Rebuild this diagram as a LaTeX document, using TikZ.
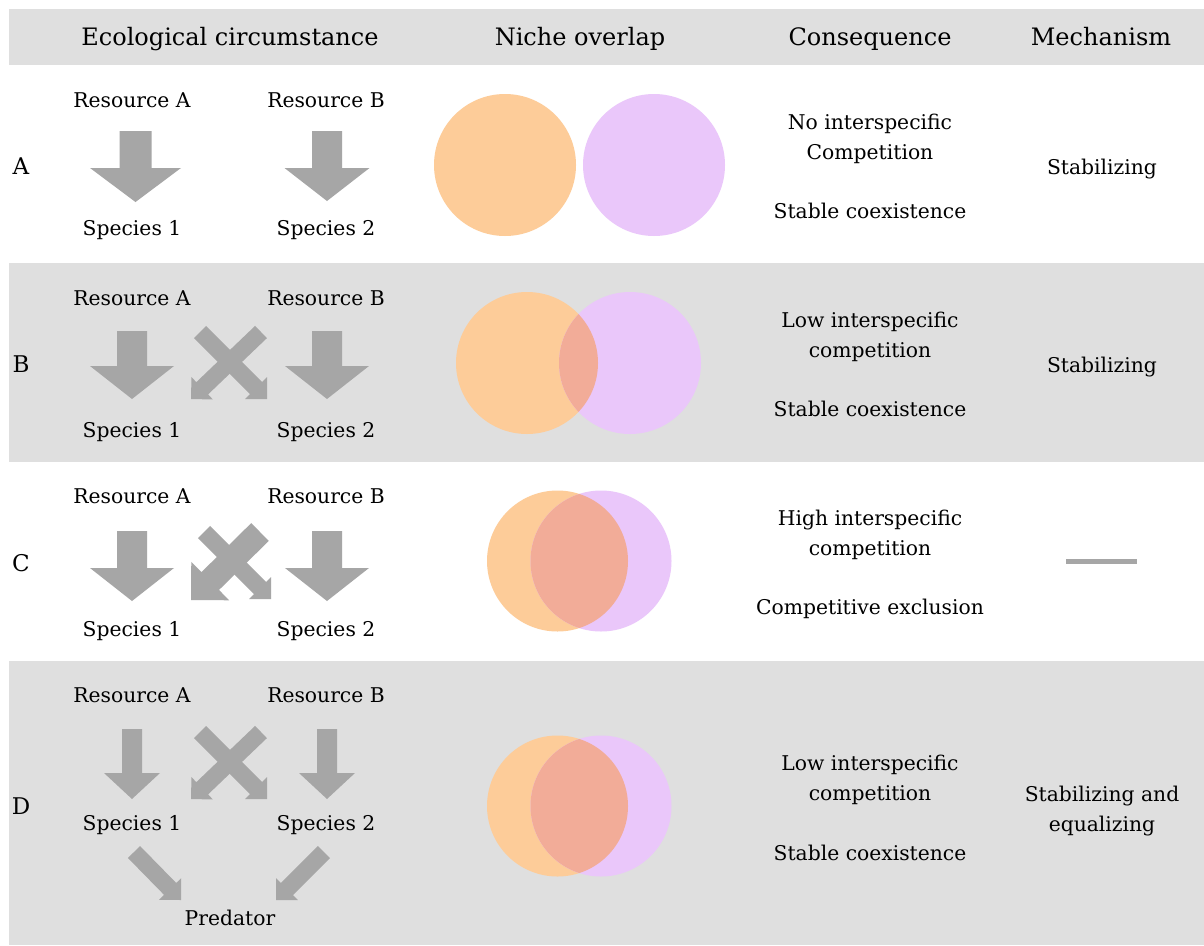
\documentclass[tikz,border=0pt]{standalone}
\usepackage{fontspec}
\setmainfont{DejaVu Serif}
\usetikzlibrary{calc}
\definecolor{bandgray}{HTML}{DFDFDF}
\definecolor{arrowgray}{HTML}{A6A6A6}
\definecolor{nicheorange}{HTML}{FDCC99}
\definecolor{nichepurple}{HTML}{EAC7FA}
\definecolor{nicheoverlap}{HTML}{F2AC98}
% #1 start, #2 tip, #3 shaft half width, #4 head half width, #5 head length
\newcommand{\blockarrow}[5]{%
  \path ($(#2)!#5!(#1)$) coordinate (bab);
  \fill[arrowgray] ($(#1)!#3!90:(#2)$) -- ($(bab)!#3!90:(#2)$) -- ($(bab)!#4!90:(#2)$) -- (#2)
    -- ($(bab)!#4!-90:(#2)$) -- ($(bab)!#3!-90:(#2)$) -- ($(#1)!#3!-90:(#2)$) -- cycle;}
\newcommand{\thinarrow}[2]{\blockarrow{#1}{#2}{8.5pt}{15.5pt}{15.5pt}}
\newcommand{\downarrowbig}[2]{\blockarrow{#1}{#2}{15pt}{42pt}{33pt}}
\begin{document}
\begin{tikzpicture}[x=1pt,y=-1pt,
  hdr/.style={font=\fontsize{24}{30}\selectfont, inner sep=0pt, text height=17pt, text depth=0pt},
  txt/.style={font=\fontsize{20.3}{30}\selectfont, inner sep=0pt, text height=14.5pt, text depth=0pt},
  lbl/.style={font=\fontsize{23}{30}\selectfont, inner sep=0pt, text height=16.5pt, text depth=0pt},
  band/.style={fill=bandgray}]
\useasboundingbox (0,0) rectangle (1204,945);
\fill[white] (0,0) rectangle (1204,945);
% bands
\fill[band] (9,9) rectangle (1204,65);
\fill[band] (9,263) rectangle (1204,462);
\fill[band] (9,661) rectangle (1204,945);
% header
\node[hdr] (hEco) at (230,37) {Ecological circumstance};
\node[hdr] (hNiche) at (580,37) {Niche overlap};
\node[hdr] (hCons) at (870,37) {Consequence};
\node[hdr] (hMech) at (1101,37) {Mechanism};
% row labels
\node[lbl] (lA) at (21,166) {A};
\node[lbl] (lB) at (21,364) {B};
\node[lbl] (lC) at (21,563) {C};
\node[lbl] (lD) at (21,806) {D};
% ---------- Row A ----------
\node[txt] (rAa) at (132,100) {Resource A};
\node[txt] (rBa) at (326,100) {Resource B};
\node[txt] (s1a) at (132,228) {Species 1};
\node[txt] (s2a) at (326,228) {Species 2};
\coordinate (aLs) at (135.5,131); \coordinate (aLt) at (135.5,202);
\coordinate (aRs) at (327,131); \coordinate (aRt) at (327,201);
\blockarrow{aLs}{aLt}{16pt}{45.5pt}{34pt}
\blockarrow{aRs}{aRt}{15pt}{42.5pt}{33pt}
% ---------- Row B ----------
\node[txt] (rAb) at (132,298) {Resource A};
\node[txt] (rBb) at (326,298) {Resource B};
\node[txt] (s1b) at (132,430) {Species 1};
\node[txt] (s2b) at (326,430) {Species 2};
\coordinate (bLs) at (132,331); \coordinate (bLt) at (132,399);
\coordinate (bRs) at (327,331); \coordinate (bRt) at (327,399);
\downarrowbig{bLs}{bLt}
\downarrowbig{bRs}{bRt}
\coordinate (bXs1) at (200,332); \coordinate (bXt1) at (267,399);
\coordinate (bXs2) at (261,332); \coordinate (bXt2) at (191,399);
\thinarrow{bXs1}{bXt1}
\thinarrow{bXs2}{bXt2}
% ---------- Row C ----------
\node[txt] (rAc) at (132,496) {Resource A};
\node[txt] (rBc) at (326,496) {Resource B};
\node[txt] (s1c) at (132,629) {Species 1};
\node[txt] (s2c) at (326,629) {Species 2};
\coordinate (cLs) at (132,531); \coordinate (cLt) at (132,601);
\coordinate (cRs) at (327,531); \coordinate (cRt) at (327,601);
\downarrowbig{cLs}{cLt}
\downarrowbig{cRs}{cRt}
\coordinate (cXs1) at (204,532); \coordinate (cXt1) at (271,599);
\coordinate (cXs2) at (260,532); \coordinate (cXt2) at (191,600);
\thinarrow{cXs1}{cXt1}
\blockarrow{cXs2}{cXt2}{12.5pt}{27pt}{27pt}
% ---------- Row D ----------
\node[txt] (rAd) at (132,695) {Resource A};
\node[txt] (rBd) at (326,695) {Resource B};
\node[txt] (s1d) at (132,823) {Species 1};
\node[txt] (s2d) at (326,823) {Species 2};
\node[txt] (pred) at (230,918) {Predator};
\coordinate (dLs) at (132,729); \coordinate (dLt) at (132,799);
\coordinate (dRs) at (327,729); \coordinate (dRt) at (327,799);
\blockarrow{dLs}{dLt}{10pt}{28pt}{26pt}
\blockarrow{dRs}{dRt}{10pt}{28pt}{26pt}
\coordinate (dXs1) at (200,732); \coordinate (dXt1) at (267,799);
\coordinate (dXs2) at (261,732); \coordinate (dXt2) at (191,799);
\thinarrow{dXs1}{dXt1}
\thinarrow{dXs2}{dXt2}
\coordinate (dPs1) at (134,852); \coordinate (dPt1) at (181,900);
\coordinate (dPs2) at (324,852); \coordinate (dPt2) at (276,900);
\thinarrow{dPs1}{dPt1}
\thinarrow{dPs2}{dPt2}
% ---------- Niche circles ----------
\fill[nicheorange] (505,165) circle (71);
\fill[nichepurple] (654,165) circle (71);
\fill[nicheorange] (527,363) circle (71);
\fill[nichepurple] (630,363) circle (71);
\begin{scope}\clip (527,363) circle (71); \fill[nicheoverlap] (630,363) circle (71); \end{scope}
\fill[nicheorange] (557.5,561) circle (70.5);
\fill[nichepurple] (601,561) circle (70.5);
\begin{scope}\clip (557.5,561) circle (70.5); \fill[nicheoverlap] (601,561) circle (70.5); \end{scope}
\fill[nicheorange] (557.5,806) circle (70.5);
\fill[nichepurple] (601,806) circle (70.5);
\begin{scope}\clip (557.5,806) circle (70.5); \fill[nicheoverlap] (601,806) circle (70.5); \end{scope}
% ---------- Consequence ----------
\node[txt] (cqA1) at (870,122) {No interspecific};
\node[txt] (cqA2) at (870,152) {Competition};
\node[txt] (cqA3) at (870,211) {Stable coexistence};
\node[txt] (cqB1) at (870,320) {Low interspecific};
\node[txt] (cqB2) at (870,350) {competition};
\node[txt] (cqB3) at (870,409) {Stable coexistence};
\node[txt] (cqC1) at (870,518) {High interspecific};
\node[txt] (cqC2) at (870,548) {competition};
\node[txt] (cqC3) at (870,607) {Competitive exclusion};
\node[txt] (cqD1) at (870,763) {Low interspecific};
\node[txt] (cqD2) at (870,793) {competition};
\node[txt] (cqD3) at (870,853) {Stable coexistence};
% ---------- Mechanism ----------
\node[txt] (mA) at (1102,167) {Stabilizing};
\node[txt] (mB) at (1102,365) {Stabilizing};
\coordinate (mCl) at (1066,561); \coordinate (mCr) at (1137,561);
\draw[arrowgray, line width=5pt] (mCl) -- (mCr);
\node[txt] (mD1) at (1102,794) {Stabilizing and};
\node[txt] (mD2) at (1102,824) {equalizing};
\end{tikzpicture}
\end{document}
